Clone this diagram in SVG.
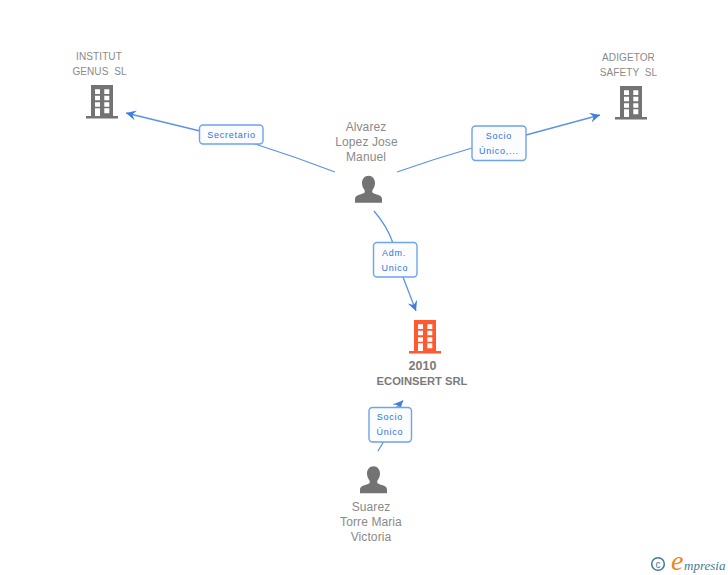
<svg xmlns="http://www.w3.org/2000/svg" xmlns:xlink="http://www.w3.org/1999/xlink" width="728" height="575" viewBox="0 0 728 575">
<style>
text{font-family:"Liberation Sans",Arial,sans-serif}
.n{font-size:10px;fill:#8a8a8a;text-anchor:middle;letter-spacing:.1px}
.p{font-size:12px;fill:#8a8a8a;text-anchor:middle;letter-spacing:.1px}
.b{font-size:11.200px;font-weight:bold;fill:#7a7a7a;text-anchor:middle}
.l{font-size:9px;fill:#2f74dc;text-anchor:middle;letter-spacing:.75px}
.c{fill:none;stroke:#5b93e6;stroke-width:1.300}
.box{fill:#fbfcfe;stroke:#6fa3ea;stroke-width:1.400}
.grey{fill:#737373}
.red{fill:#ff5a2f}
.w{fill:#fff}
</style>
<defs>
<marker id="a" markerUnits="userSpaceOnUse" markerWidth="12" markerHeight="12" refX="10" refY="5" orient="auto"><path d="M0 0L10 5L0 10L3.500 5Z" fill="#3f7fdc"/></marker>
<g id="bld">
<path d="M91 85H113V116H118V118.500H86V116H91Z"/>
<path class="w" d="M95 89.300h5v4.700h-5zM104.300 89.300h5v4.700h-5zM95 95.700h5v4.600h-5zM104.300 95.700h5v4.600h-5zM95 102.300h5v4.400h-5zM104.300 102.300h5v4.400h-5zM95 108.300h5v7.700h-5zM104.300 108.300h5v5h-5z"/>
</g>
<path id="per" d="M368.500 175.700C372.500 175.700 375 179 375 183C375 186 373.800 188.600 372.300 190.200V192C372.300 193.300 376 194 379 195.300C381.300 196.300 382 197.500 382 199.500V202.700H355V199.500C355 197.500 355.700 196.300 358 195.300C361 194 364.700 193.300 364.700 192V190.200C363.200 188.600 362 186 362 183C362 179 364.500 175.700 368.500 175.700Z"/>
</defs>
<rect width="728" height="575" fill="#fff"/>
<g id="connectors">
<path class="c" marker-end="url(#a)" d="M200 131L126 113"/>
<path class="c" d="M255 144Q296 157 335 172"/>
<path class="c" d="M397 172Q434 159 472 148"/>
<path class="c" marker-end="url(#a)" d="M526 135L600 115"/>
<path class="c" d="M374 211Q387 226 393 243"/>
<path class="c" marker-end="url(#a)" d="M403 277L416 311"/>
<path class="c" d="M378 451L384 441"/>
<path class="c" marker-end="url(#a)" d="M396 408L403 400.500"/>
</g>
<g id="node-institut">
<text class="n" x="99" y="60">INSTITUT</text>
<text class="n" x="99.500" y="75" xml:space="preserve">GENUS  SL</text>
<use xlink:href="#bld" href="#bld" class="grey"/>
</g>
<g id="node-adigetor">
<text class="n" x="628.500" y="61">ADIGETOR</text>
<text class="n" x="628.500" y="76" xml:space="preserve">SAFETY  SL</text>
<use xlink:href="#bld" href="#bld" class="grey" transform="translate(529 1)"/>
</g>
<g id="node-alvarez">
<text class="p" x="366" y="131">Alvarez</text>
<text class="p" x="366.500" y="146">Lopez Jose</text>
<text class="p" x="366" y="161">Manuel</text>
<use xlink:href="#per" href="#per" class="grey"/>
</g>
<g id="node-ecoinsert">
<use xlink:href="#bld" href="#bld" class="red" transform="translate(323 235)"/>
<text class="b" x="422.500" y="370" style="font-size:12.500px">2010</text>
<text class="b" x="422" y="385">ECOINSERT SRL</text>
</g>
<g id="node-suarez">
<use xlink:href="#per" href="#per" class="grey" transform="translate(5 290.500)"/>
<text class="p" x="371" y="511">Suarez</text>
<text class="p" x="371" y="526">Torre Maria</text>
<text class="p" x="371" y="541">Victoria</text>
</g>
<g id="label-secretario">
<rect class="box" x="199.500" y="125" width="63.500" height="19" rx="3.500"/>
<text class="l" x="231.500" y="138">Secretario</text>
</g>
<g id="label-socio-unico-etc">
<rect class="box" x="472" y="126" width="54" height="34.500" rx="3.500"/>
<text class="l" x="499" y="139">Socio</text>
<text class="l" x="499" y="154">Único,...</text>
</g>
<g id="label-adm-unico">
<rect class="box" x="373.500" y="242.500" width="43.500" height="34.500" rx="3.500"/>
<text class="l" x="394" y="256">Adm.</text>
<text class="l" x="395" y="271">Unico</text>
</g>
<g id="label-socio-unico">
<rect class="box" x="369" y="407.500" width="42.500" height="34.500" rx="3.500"/>
<text class="l" x="390" y="420">Socio</text>
<text class="l" x="390" y="435">Único</text>
</g>
<g id="logo">
<circle cx="658" cy="564" r="6.300" fill="none" stroke="#3f7c94" stroke-width="1.500"/>
<text x="658" y="567.500" font-size="10" fill="#3f7c94" text-anchor="middle">c</text>
<text x="671" y="570" font-size="28" font-style="italic" fill="#f0861e" style="font-family:'Liberation Serif',serif">e</text>
<text x="684" y="570" font-size="13" font-style="italic" fill="#3f7c94" style="font-family:'Liberation Serif',serif">mpresia</text>
</g>
</svg>
